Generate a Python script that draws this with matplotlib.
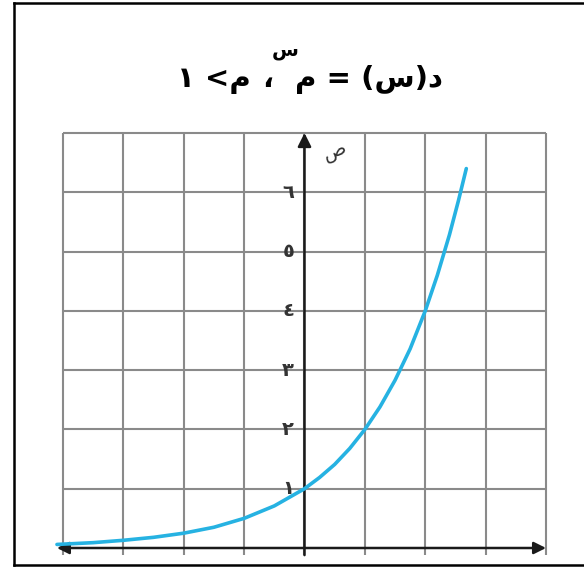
import matplotlib.pyplot as plt
from matplotlib.patches import FancyArrowPatch

# grid cells and tick labels
grid_x = [-4, -3, -2, -1, 0, 1, 2, 3, 4]
grid_y = [1, 2, 3, 4, 5, 6, 7]
y_ticks = [1, 2, 3, 4, 5, 6]
y_labels = ['١', '٢', '٣', '٤', '٥', '٦']

# points
curve_x = [-4.1, -3.5, -3, -2.5, -2, -1.5, -1, -0.5, 0, 0.25, 0.5, 0.75, 1,
           1.25, 1.5, 1.75, 2, 2.2, 2.4, 2.55, 2.68]
curve_y = [0.06, 0.09, 0.13, 0.18, 0.25, 0.35, 0.5, 0.71, 1, 1.19, 1.41, 1.68, 2,
           2.38, 2.83, 3.36, 4, 4.6, 5.28, 5.86, 6.4]

# title pieces in visual (left to right) order
title_left = '١ <م'
title_comma = '،'
title_sup = 'س'
title_right = 'م = (س)د'

W, H = 584, 567
fig = plt.figure(figsize=(W / 100, H / 100), dpi=100)

# outer frame (no right edge visible in the reference)
fig.add_artist(plt.Line2D([14 / W, 14 / W], [1 - 3 / H, 1 - 565 / H], color='black', lw=1.8))
fig.add_artist(plt.Line2D([14 / W, 1], [1 - 3 / H, 1 - 3 / H], color='black', lw=1.8))
fig.add_artist(plt.Line2D([14 / W, 1], [1 - 565 / H, 1 - 565 / H], color='black', lw=1.8))

# axes placed so that x=-4..4 -> 63..546 px, y=0..7 -> 548..133 px
ux = (546 - 63) / 8
uy = (548 - 133) / 7
x0, x1 = -4.2, 4.2
y0, y1 = -0.3, 7.3
left_px = 63 + (x0 + 4) * ux
ax = fig.add_axes([left_px / W, 1 - (548 - y0 * uy) / H,
                   (x1 - x0) * ux / W, (y1 - y0) * uy / H])
ax.set_xlim(x0, x1)
ax.set_ylim(y0, y1)
ax.axis('off')

# grid
ax.vlines(grid_x, -0.12, 7, color='#8a8a8a', lw=1.5, zorder=1)
ax.hlines(grid_y, -4, 4, color='#8a8a8a', lw=1.5, zorder=1)

# axes with arrowheads
ax.add_patch(FancyArrowPatch((-4.1, 0), (4.0, 0), arrowstyle='<|-|>', mutation_scale=18,
                             color='#1a1a1a', lw=1.8, zorder=3, shrinkA=0, shrinkB=0))
ax.add_patch(FancyArrowPatch((0, -0.12), (0, 7.0), arrowstyle='-|>', mutation_scale=20,
                             color='#1a1a1a', lw=1.8, zorder=3, shrinkA=0, shrinkB=0))

# curve
ax.plot(curve_x, curve_y, color='#26b2e2', lw=2.6, zorder=4, solid_capstyle='round')

# tick labels on the y axis
for t, lab in zip(y_ticks, y_labels):
    ax.text(-0.27, t, lab, ha='center', va='center', fontsize=14, fontweight='bold',
            color='#333333', family='DejaVu Sans')
ax.text(0.5, 6.7, 'ص', ha='center', va='center', fontsize=14, rotation=20,
        color='#333333', family='DejaVu Sans')

# title
ty = 1 - 87 / H
fs = 21
fig.text(177 / W, ty, title_left, ha='left', va='baseline', fontsize=fs,
         fontweight='bold', family='DejaVu Sans')
fig.text(268 / W, ty, title_comma, ha='center', va='baseline', fontsize=fs,
         fontweight='bold', family='DejaVu Sans')
fig.text(285 / W, 1 - 56 / H, title_sup, ha='center', va='baseline', fontsize=14,
         fontweight='bold', family='DejaVu Sans')
fig.text(443 / W, ty, title_right, ha='right', va='baseline', fontsize=fs,
         fontweight='bold', family='DejaVu Sans')

fig.savefig('out.png', dpi=100, facecolor='white')
